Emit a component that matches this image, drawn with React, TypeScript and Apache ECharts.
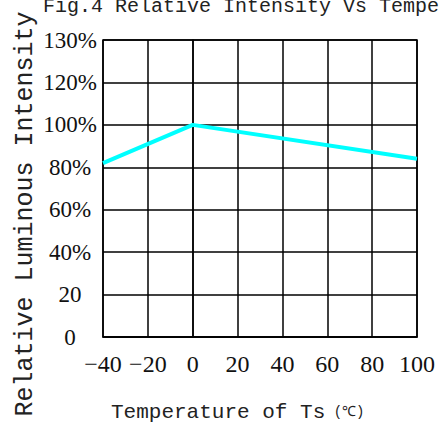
import React, { useEffect, useRef } from "react";
import * as echarts from "echarts";

const titleText = "Fig.4 Relative Intensity Vs Temperature";
const yAxisName = "Relative Luminous Intensity";
const xAxisName = "Temperature of Ts";
const xAxisUnit = "(℃)";

const xTickValues = [-40, -20, 0, 20, 40, 60, 80, 100];
const xTickLabels = ["−40", "−20", "0", "20", "40", "60", "80", "100"];
const yTickValues = [0, 20, 40, 60, 80, 100, 120, 140];
const yTickLabels = ["0", "20", "40%", "60%", "80%", "100%", "120%", "130%"];

const temperature = [-40, 0, 100];
const intensity = [82, 100, 84];

const MONO = "'Liberation Mono', 'DejaVu Sans Mono', monospace";
const SERIF = "'Liberation Serif', 'DejaVu Serif', serif";

export default function App() {
  const ref = useRef<HTMLDivElement>(null);
  useEffect(() => {
    if (!ref.current) return;
    const chart = echarts.init(ref.current, null, { renderer: "svg" });
    chart.setOption({
      animation: false,
      backgroundColor: "#ffffff",
      title: {
        text: titleText,
        left: 43,
        top: -4,
        padding: 0,
        textStyle: { fontFamily: MONO, fontSize: 20, fontWeight: "normal", color: "#222" },
      },
      grid: {
        left: 103,
        right: 22,
        top: 40,
        bottom: 89,
        show: true,
        borderColor: "#000",
        borderWidth: 1.5,
      },
      xAxis: {
        type: "value",
        min: xTickValues[0],
        max: xTickValues[xTickValues.length - 1],
        interval: 20,
        axisLine: { show: true, lineStyle: { color: "#000", width: 1.5 } },
        axisTick: { show: false },
        splitLine: { show: true, lineStyle: { color: "#000", width: 1.5 } },
        axisLabel: {
          margin: 15,
          fontFamily: SERIF,
          fontSize: 24,
          color: "#111",
          formatter: (v: number) => {
            const i = xTickValues.indexOf(v);
            return i >= 0 ? xTickLabels[i] : "";
          },
        },
      },
      yAxis: {
        type: "value",
        min: yTickValues[0],
        max: yTickValues[yTickValues.length - 1],
        interval: 20,
        axisLine: { show: true, lineStyle: { color: "#000", width: 1.5 } },
        axisTick: { show: false },
        splitLine: { show: true, lineStyle: { color: "#000", width: 1.5 } },
        axisLabel: {
          margin: 33,
          align: "center",
          fontFamily: SERIF,
          fontSize: 23,
          color: "#111",
          padding: [0, 0, 6, 0],
          formatter: (v: number) => {
            const i = yTickValues.indexOf(v);
            return i >= 0 ? yTickLabels[i] : "";
          },
        },
      },
      graphic: [
        {
          type: "text",
          x: 25,
          y: 214,
          rotation: Math.PI / 2,
          style: {
            text: yAxisName,
            fontFamily: MONO,
            fontSize: 25,
            fill: "#222",
            align: "center",
            verticalAlign: "middle",
          },
        },
        {
          type: "text",
          x: 111,
          y: 412,
          style: {
            text: "{a|" + xAxisName + "}{b| " + xAxisUnit + "}",
            rich: {
              a: { fontFamily: MONO, fontSize: 21, fill: "#222" },
              b: { fontFamily: MONO, fontSize: 14, fill: "#222" },
            },
            align: "left",
            verticalAlign: "middle",
          },
        },
      ],
      series: [
        {
          type: "line",
          data: temperature.map((t, i) => [t, intensity[i]]),
          symbol: "none",
          lineStyle: { color: "#00FFFF", width: 4 },
          z: 5,
        },
      ],
    });
    return () => chart.dispose();
  }, []);
  return <div ref={ref} style={{ width: 439, height: 426, position: "absolute", left: 0, top: 0 }} />;
}
